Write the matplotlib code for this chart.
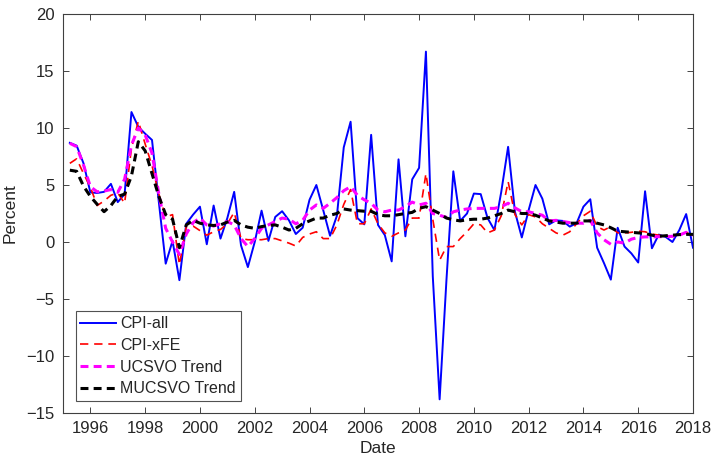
import numpy as np
import matplotlib
matplotlib.use("Agg")
import matplotlib.pyplot as plt

plt.rcParams['font.family'] = ['Liberation Sans', 'DejaVu Sans']

# quarterly dates, 1995Q2 .. 2018Q1
dates = np.arange(1995.25, 2018.01, 0.25)

cpi_all = [
    8.7, 8.45, 6.9, 4.35, 4.3, 4.4, 5.1, 3.5, 4.2, 11.4,
    10.1, 9.5, 8.95, 3.5, -1.9, 0.1, -3.35, 1.6, 2.4, 3.1,
    -0.2, 3.2, 0.3, 2.1, 4.4, -0.3, -2.2, 0.0, 2.75, 0.1,
    2.2, 2.7, 1.9, 0.7, 1.25, 3.7, 5.0, 2.8, 0.55, 2.3,
    8.3, 10.55, 2.1, 1.55, 9.4, 1.5, 0.6, -1.7, 7.25, 0.5,
    5.5, 6.5, 16.7, -3.0, -13.8, -3.3, 6.2, 1.85, 2.5, 4.25,
    4.2, 2.1, 1.05, 4.4, 8.35, 2.65, 0.4, 2.8, 5.0, 3.8,
    1.55, 1.9, 1.85, 1.35, 1.65, 3.1, 3.75, -0.5, -1.85, -3.3,
    1.25, -0.4, -1.0, -1.8, 4.45, -0.55, 0.65, 0.45, 0.0, 1.05,
    2.45, -0.5,
]

cpi_xfe = [
    6.9, 7.3, 6.0, 4.8, 3.2, 3.6, 4.1, 4.3, 3.4, 8.2,
    10.6, 8.6, 6.7, 4.2, 2.2, 2.4, -2.0, 1.35, 1.4, 1.0,
    0.6, 0.9, 1.1, 1.6, 2.6, 0.3, 0.2, 0.2, 0.2, 0.3,
    0.3, 0.1, -0.1, -0.35, 0.4, 0.7, 0.9, 0.3, 0.3, 1.5,
    3.3, 4.6, 1.6, 1.6, 2.9, 1.6, 0.8, 0.5, 0.8, 1.05,
    2.1, 2.1, 6.0, 2.0, -1.6, -0.4, -0.4, 0.3, 0.9, 1.6,
    1.5, 0.8, 1.05, 2.3, 5.3, 2.4, 1.5, 2.4, 2.2, 1.6,
    1.2, 0.8, 0.6, 0.9, 1.6, 2.3, 2.7, 1.35, 1.05, 1.35,
    0.8, 0.8, 0.85, 0.95, 0.9, 0.7, 0.6, 0.5, 0.5, 0.6,
    0.85, 0.6,
]

ucsvo_trend = [
    8.66, 8.36, 6.75, 4.85, 4.4, 4.47, 4.6, 4.36, 5.5, 8.5,
    10.0, 9.4, 7.8, 4.2, 1.2, 0.0, -1.1, 0.7, 1.7, 2.1,
    1.5, 1.4, 1.6, 1.8, 1.5, 0.3, -0.4, 0.3, 1.2, 1.5,
    1.8, 2.1, 2.0, 1.6, 1.9, 2.8, 3.25, 2.95, 3.4, 3.9,
    4.5, 4.85, 4.1, 3.7, 3.4, 2.8, 2.65, 2.8, 2.8, 3.1,
    3.5, 3.25, 3.4, 2.5, 2.35, 2.15, 2.65, 2.8, 2.9, 2.95,
    2.95, 2.95, 2.95, 3.1, 3.4, 3.0, 2.65, 2.65, 2.5, 2.35,
    1.85, 1.9, 1.8, 1.7, 1.65, 1.65, 1.9, 0.8, 0.2, -0.2,
    0.0, -0.1, 0.25, 0.4, 0.45, 0.45, 0.47, 0.47, 0.5, 0.6,
    0.85, 0.6,
]

mucsvo_trend = [
    6.3, 6.2, 4.9, 4.0, 3.3, 2.66, 3.2, 4.0, 4.2, 5.8,
    8.8, 8.0, 6.0, 4.0, 2.4, 2.0, -0.5, 1.5, 1.9, 1.65,
    1.5, 1.45, 1.5, 1.75, 1.9, 1.5, 1.3, 1.2, 1.35, 1.45,
    1.5, 1.3, 1.05, 1.2, 1.6, 1.85, 2.1, 2.1, 2.35, 2.5,
    2.9, 2.8, 2.75, 2.7, 2.7, 2.4, 2.3, 2.3, 2.4, 2.5,
    2.6, 2.95, 3.1, 2.8, 2.5, 2.1, 1.95, 1.85, 1.95, 2.0,
    2.0, 2.1, 2.3, 2.5, 2.8, 2.65, 2.5, 2.5, 2.35, 2.1,
    1.85, 1.75, 1.65, 1.65, 1.65, 1.85, 1.85, 1.65, 1.5, 1.25,
    0.95, 0.9, 0.85, 0.8, 0.75, 0.6, 0.5, 0.55, 0.6, 0.65,
    0.67, 0.67,
]

series_labels = ['CPI-all', 'CPI-xFE', 'UCSVO Trend', 'MUCSVO Trend']
xticks = list(range(1996, 2019, 2))
yticks = list(range(-15, 21, 5))

axis_col = '#262626'

fig = plt.figure(figsize=(7.14, 4.65), dpi=100)
ax = fig.add_axes([0.0882, 0.1118, 0.8824, 0.8581])

ax.plot(dates, cpi_all, color='#0000ff', lw=1.4, label=series_labels[0])
ax.plot(dates, cpi_xfe, color='#ff0000', lw=1.2, dashes=(5, 3.5),
        label=series_labels[1])
ax.plot(dates, ucsvo_trend, color='#ff00ff', lw=2.2, dashes=(2.6, 1.7),
        label=series_labels[2])
ax.plot(dates, mucsvo_trend, color='#000000', lw=2.2, dashes=(2.6, 1.7),
        label=series_labels[3])

ax.set_xlim(1995, 2018)
ax.set_ylim(-15, 20)
ax.set_xticks(xticks)
ax.set_yticks(yticks)

ax.tick_params(direction='in', length=4.3, width=0.6, top=True, right=True,
               labelsize=12, colors=axis_col, pad=6)
for sp in ax.spines.values():
    sp.set_color('#404040')
    sp.set_linewidth(0.8)

ax.set_xlabel('Date', fontsize=12.5, color=axis_col, labelpad=3)
ax.set_ylabel('Percent', fontsize=12.5, color=axis_col, labelpad=6)

leg = ax.legend(loc='lower left', bbox_to_anchor=(0.02, 0.03), fontsize=11.5,
                frameon=True, fancybox=False, edgecolor='#262626',
                handlelength=2.2, handletextpad=0.3, labelspacing=0.42,
                borderpad=0.3, borderaxespad=0)
leg.get_frame().set_linewidth(0.8)
for t in leg.get_texts():
    t.set_color(axis_col)

fig.savefig('out.png', dpi=100)
